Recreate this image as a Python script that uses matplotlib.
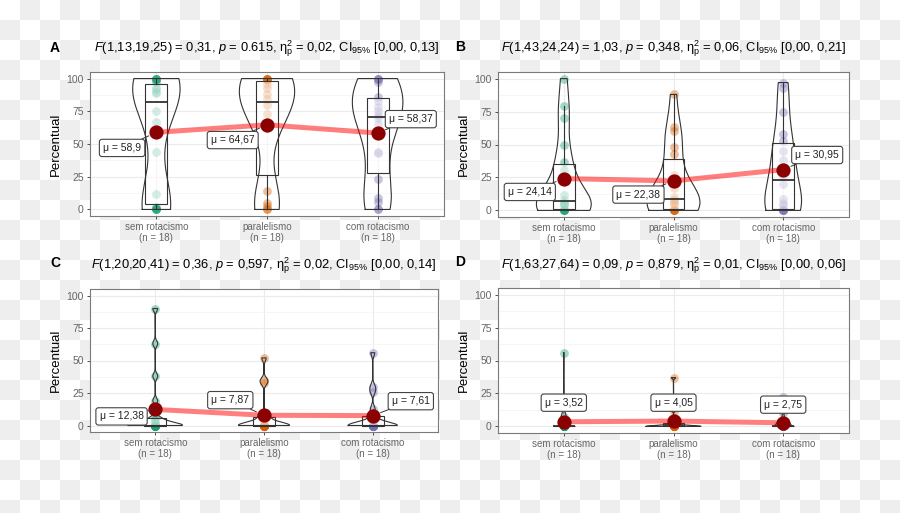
import numpy as np
import matplotlib
matplotlib.use('Agg')
import matplotlib.pyplot as plt
from matplotlib.ticker import MultipleLocator

plt.rcParams['font.family'] = ['Liberation Sans', 'DejaVu Sans']
plt.rcParams['mathtext.fontset'] = 'custom'
plt.rcParams['mathtext.rm'] = 'Liberation Sans'
plt.rcParams['mathtext.it'] = 'Liberation Sans:italic'
plt.rcParams['mathtext.bf'] = 'Liberation Sans:bold'

# ---------------- data ----------------
categories = ['sem rotacismo', 'paralelismo', 'com rotacismo']
n_text = ['(n = 18)', '(n = 18)', '(n = 18)']
group_colors = ['#1B9E77', '#D95F02', '#7570B3']
panel_letters = ['A', 'B', 'C', 'D']
titles = [
    r'$\it{F}$(1,13,19,25) = 0,31, $\it{p}$ = 0.615, η$^{2}_{\mathrm{p}}$ = 0,02, CI$_{95\%}$ [0,00, 0,13]',
    r'$\it{F}$(1,43,24,24) = 1,03, $\it{p}$ = 0,348, η$^{2}_{\mathrm{p}}$ = 0,06, CI$_{95\%}$ [0,00, 0,21]',
    r'$\it{F}$(1,20,20,41) = 0,36, $\it{p}$ = 0,597, η$^{2}_{\mathrm{p}}$ = 0,02, CI$_{95\%}$ [0,00, 0,14]',
    r'$\it{F}$(1,63,27,64) = 0,09, $\it{p}$ = 0,879, η$^{2}_{\mathrm{p}}$ = 0,01, CI$_{95\%}$ [0,00, 0,06]',
]

A_sem = [0, 0, 0, 0, 2, 12, 44, 67, 75, 89, 90, 92, 93, 97, 100, 100, 100, 100]
A_par = [0, 0, 3, 5, 14, 62, 67, 73, 80, 84, 88, 93, 96, 99, 100, 100, 100, 100]
A_com = [0, 0, 6, 9, 23, 43, 44, 65, 70, 72, 75, 78, 83, 86, 97, 100, 100, 100]
B_sem = [0, 0, 0, 0, 0, 4, 5, 6, 6, 8, 12, 25, 31, 37, 50, 70, 79, 100]
B_par = [0, 0, 0, 0, 0, 4, 6, 7, 8, 10, 17, 22, 27, 43, 48, 60, 63, 88]
B_com = [0, 0, 0, 0, 0, 4, 6, 9, 20, 26, 33, 38, 45, 53, 58, 75, 93, 97]
C_sem = [0, 0, 0, 0, 0, 0, 0, 0, 0, 0, 2, 3, 5, 6, 19, 38, 63, 90]
C_par = [0, 0, 0, 0, 0, 0, 0, 0, 0, 0, 0, 2, 5, 7, 8, 33, 35, 52]
C_com = [0, 0, 0, 0, 0, 0, 0, 0, 0, 0, 0, 0, 4, 8, 13, 26, 30, 56]
D_sem = [0, 0, 0, 0, 0, 0, 0, 0, 0, 0, 0, 0, 0, 0, 0, 0, 7, 56]
D_par = [0, 0, 0, 0, 0, 0, 0, 0, 0, 0, 0, 0, 0, 3, 6, 12, 15, 37]
D_com = [0, 0, 0, 0, 0, 0, 0, 0, 0, 0, 0, 0, 0, 0, 3, 10, 14, 22]

means_A = [58.90, 64.67, 58.37]
means_B = [24.14, 22.38, 30.95]
means_C = [12.38, 7.87, 7.61]
means_D = [3.52, 4.05, 2.75]

panel_data = [[A_sem, A_par, A_com], [B_sem, B_par, B_com],
              [C_sem, C_par, C_com], [D_sem, D_par, D_com]]
panel_means = [means_A, means_B, means_C, means_D]

# ---------------- layout ----------------
W, H = 900, 513
axes_px = [(90, 444, 72, 216), (498, 849, 72, 217),
           (90, 438, 289, 432), (498, 849, 288, 433)]
letter_px = [(55, 48), (460, 47), (55, 263), (460, 262)]
title_y_px = [49, 49, 266, 266]
# label offsets (dx in category units, y in data units)
label_off = [[(-0.31, 47), (-0.31, 53), (0.30, 69)],
             [(-0.31, 14), (-0.32, 12), (0.31, 42)],
             [(-0.31, 7), (-0.31, 19.5), (0.35, 18.7)],
             [(0.0, 18), (0.0, 18), (0.0, 16.5)]]

fig = plt.figure(figsize=(W / 100, H / 100), dpi=100)

# checkerboard (transparent background look)
yy, xx = np.mgrid[0:H, 0:W]
chk = ((xx // 20 + yy // 20) % 2).astype(float)
img = np.ones((H, W, 3))
img[chk == 1] = 0.937
fig.figimage(img, xo=0, yo=0, origin='upper', zorder=-10)


def bw_nrd0(x):
    x = np.asarray(x, float)
    hi = np.std(x, ddof=1)
    q75, q25 = np.percentile(x, [75, 25])
    lo = min(hi, (q75 - q25) / 1.34)
    if lo <= 0:
        lo = hi
    return 0.9 * lo * len(x) ** (-0.2)


def kde(x, grid):
    x = np.asarray(x, float)
    bw = bw_nrd0(x)
    d = np.exp(-0.5 * ((grid[:, None] - x[None, :]) / bw) ** 2).sum(1)
    return d / (len(x) * bw * np.sqrt(2 * np.pi))


pos = np.array([1, 2, 3])
for k in range(4):
    l, r, t, b = axes_px[k]
    ax = fig.add_axes([l / W, 1 - b / H, (r - l) / W, (b - t) / H])
    ax.set_facecolor('white')
    ax.set_xlim(0.4, 3.6)
    ax.set_ylim(-5, 105)
    ax.set_yticks([0, 25, 50, 75, 100])
    ax.yaxis.set_minor_locator(MultipleLocator(12.5))
    ax.set_xticks(pos)
    ax.set_xticklabels([f'{c}\n{n}' for c, n in zip(categories, n_text)],
                       fontsize=7, color='#666666', linespacing=1.15)
    ax.tick_params(axis='y', labelsize=7.5, labelcolor='#666666', length=2.5,
                   width=0.6, color='#333333', pad=2)
    ax.tick_params(axis='x', length=2.5, width=0.6, color='#333333', pad=2)
    ax.tick_params(which='minor', length=0)
    ax.grid(True, which='major', color='#ebebeb', lw=0.8, zorder=0)
    ax.grid(True, which='minor', axis='y', color='#f3f3f3', lw=0.5, zorder=0)
    ax.set_axisbelow(True)
    for s in ax.spines.values():
        s.set_color('#7a7a7a')
        s.set_linewidth(0.8)
    ax.set_ylabel('Percentual', fontsize=9.5, color='black')
    ax.yaxis.set_label_coords(-0.08, 0.5)

    groups = panel_data[k]
    means = panel_means[k]

    # points
    for i, vals in enumerate(groups):
        ax.scatter(np.full(len(vals), pos[i]), vals, s=40, color=group_colors[i],
                   alpha=0.4, linewidths=0, zorder=2)

    # boxplots
    ax.boxplot(groups, positions=pos, widths=0.2, whis=1.5, showfliers=False,
               showcaps=False, patch_artist=True,
               boxprops=dict(facecolor=(1, 1, 1, 0.55), edgecolor='#333333', lw=0.8),
               medianprops=dict(color='#333333', lw=1.3),
               whiskerprops=dict(color='#333333', lw=0.8), zorder=3,
               manage_ticks=False)

    # violins (area scaled within panel, trimmed)
    dens = []
    for vals in groups:
        g = np.linspace(min(vals), max(vals), 512)
        dens.append((g, kde(vals, g)))
    dmax = max(d.max() for _, d in dens)
    for i, (g, d) in enumerate(dens):
        hw = d / dmax * 0.25
        xs = np.concatenate([pos[i] - hw, (pos[i] + hw)[::-1], [pos[i] - hw[0]]])
        ys = np.concatenate([g, g[::-1], [g[0]]])
        ax.plot(xs, ys, color='#333333', lw=0.8, zorder=4)

    # mean line and points
    ax.plot(pos, means, color='red', alpha=0.5, lw=3.6, zorder=5,
            solid_capstyle='round')
    ax.scatter(pos, means, s=105, color='#8B0000', zorder=6, linewidths=0)

    for i, m in enumerate(means):
        txt = 'μ = ' + f'{m:.2f}'.rstrip('0').rstrip('.').replace('.', ',')
        dx, ly = label_off[k][i]
        ax.annotate(txt, xy=(pos[i], m), xytext=(pos[i] + dx, ly),
                    ha='center', va='center', fontsize=7.5, color='#222222',
                    bbox=dict(boxstyle='round,pad=0.35,rounding_size=0.25',
                              fc='white', ec='#444444', lw=0.8),
                    arrowprops=dict(arrowstyle='-', color='#333333', lw=0.7,
                                    shrinkA=0, shrinkB=6),
                    zorder=7)

    fig.text((l + r) / 2 / W, 1 - title_y_px[k] / H, titles[k], ha='center',
             va='center', fontsize=9.3)
    fig.text(letter_px[k][0] / W, 1 - letter_px[k][1] / H, panel_letters[k],
             ha='center', va='center', fontsize=10, fontweight='bold')

fig.savefig('out.png', dpi=100)
